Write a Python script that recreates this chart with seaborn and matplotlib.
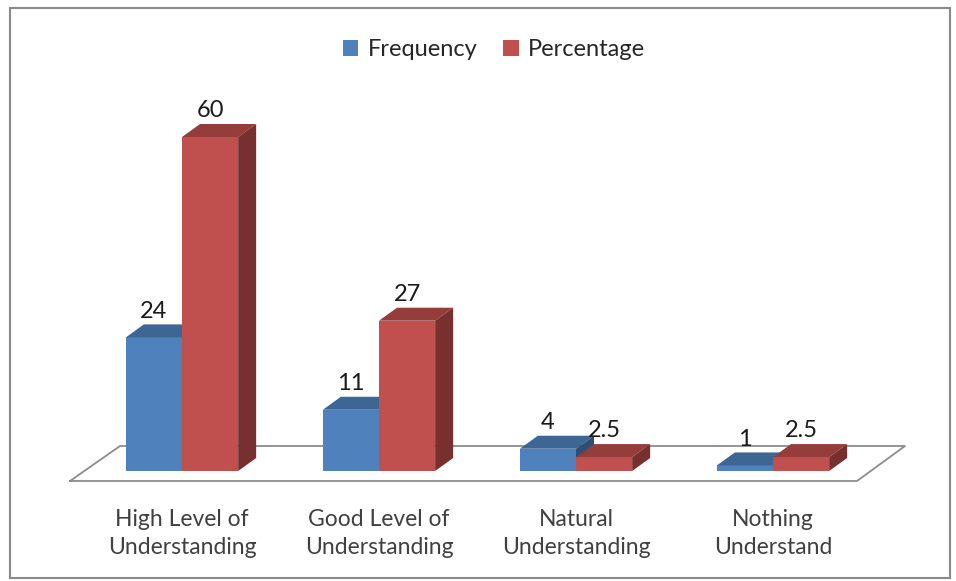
import matplotlib
matplotlib.use("Agg")
import matplotlib.pyplot as plt
import matplotlib.patches as mpatches
from matplotlib.lines import Line2D
import pandas as pd
import seaborn as sns

# data
categories = ["High Level of\nUnderstanding", "Good Level of\nUnderstanding",
              "Natural\nUnderstanding", "Nothing\nUnderstand"]
series = ["Frequency", "Percentage"]
frequency = [24, 11, 4, 1]
percentage = [60, 27, 2.5, 2.5]
value_labels = {"Frequency": ["24", "11", "4", "1"],
                "Percentage": ["60", "27", "2.5", "2.5"]}

# styles
front_colors = {"Frequency": "#4F81BD", "Percentage": "#C0504D"}
top_colors = {"Frequency": "#3D6695", "Percentage": "#953D3B"}
side_colors = {"Frequency": "#2F4E73", "Percentage": "#77302E"}
DEPTH_X, DEPTH_Y = 18, 13   # 3d depth in pixels
W, H = 956, 581

df = pd.DataFrame({
    "category": categories * 2,
    "series": [series[0]] * len(categories) + [series[1]] * len(categories),
    "value": frequency + percentage,
})

sns.set_theme(style="white")
plt.rcParams["font.family"] = ["Lato", "DejaVu Sans"]

fig = plt.figure(figsize=(W / 100, H / 100), dpi=100)
ax = fig.add_axes([83.5 / W, 110 / H, 788 / W, 334 / H])

sns.barplot(data=df, x="category", y="value", hue="series", palette=front_colors,
            width=0.57, saturation=1, ax=ax, linewidth=0)
ax.set_xlim(-0.5, 3.5)
ax.set_ylim(0, 60)

handles, labels = ax.get_legend_handles_labels()
ax.get_legend().remove()

to_disp = ax.transData.transform
to_data = ax.transData.inverted().transform

# fake 3d faces built from each bar's geometry
for k, (name, cont) in enumerate(zip(series, ax.containers)):
    for i, rect in enumerate(cont.patches):
        rect.set_zorder(2 + k)
        x0, x1 = rect.get_x(), rect.get_x() + rect.get_width()
        h = rect.get_height()
        (dx0, dy0), (dx1, dh) = to_disp([(x0, 0), (x1, h)])
        top = [(dx0, dh), (dx1, dh), (dx1 + DEPTH_X, dh + DEPTH_Y), (dx0 + DEPTH_X, dh + DEPTH_Y)]
        side = [(dx1, dy0), (dx1, dh), (dx1 + DEPTH_X, dh + DEPTH_Y), (dx1 + DEPTH_X, dy0 + DEPTH_Y)]
        ax.add_patch(mpatches.Polygon(to_data(top), closed=True, facecolor=top_colors[name],
                                      edgecolor="none", zorder=2.1 + k, clip_on=False))
        ax.add_patch(mpatches.Polygon(to_data(side), closed=True, facecolor=side_colors[name],
                                      edgecolor="none", zorder=2.1 + k, clip_on=False))
        ax.annotate(value_labels[name][i], ((x0 + x1) / 2, h), xytext=(0, 19),
                    textcoords="offset points", ha="center", va="center",
                    fontsize=17, color="#1a1a1a", annotation_clip=False, zorder=5)

# floor outline, behind the bars
floor_col = "#8c8c8c"
fl = [(70, 481), (857, 481), (905, 446), (120, 446), (70, 481)]
ax.add_line(Line2D([p[0] / W for p in fl], [1 - p[1] / H for p in fl],
                   transform=fig.transFigure, color=floor_col, lw=1.3, zorder=1,
                   clip_on=False))

# outer border
fig.add_artist(mpatches.Rectangle((10 / W, 3 / H), 940 / W, 570 / H, transform=fig.transFigure,
                                  fill=False, edgecolor="#8a8a8a", lw=1.5))

for s in ax.spines.values():
    s.set_visible(False)
ax.set_yticks([])
ax.set_xlabel("")
ax.set_ylabel("")
ax.tick_params(axis="x", length=0, pad=27, labelsize=16.5, labelcolor="#404040")
for t in ax.get_xticklabels():
    t.set_linespacing(1.45)

fig.legend(handles, labels, loc="center", bbox_to_anchor=(494 / W, 1 - 50 / H), ncol=2,
           frameon=False, fontsize=17, handlelength=0.65, handleheight=0.65,
           handletextpad=0.4, columnspacing=1.1, labelcolor="#262626")

fig.savefig("out.png", dpi=100, facecolor="white")
